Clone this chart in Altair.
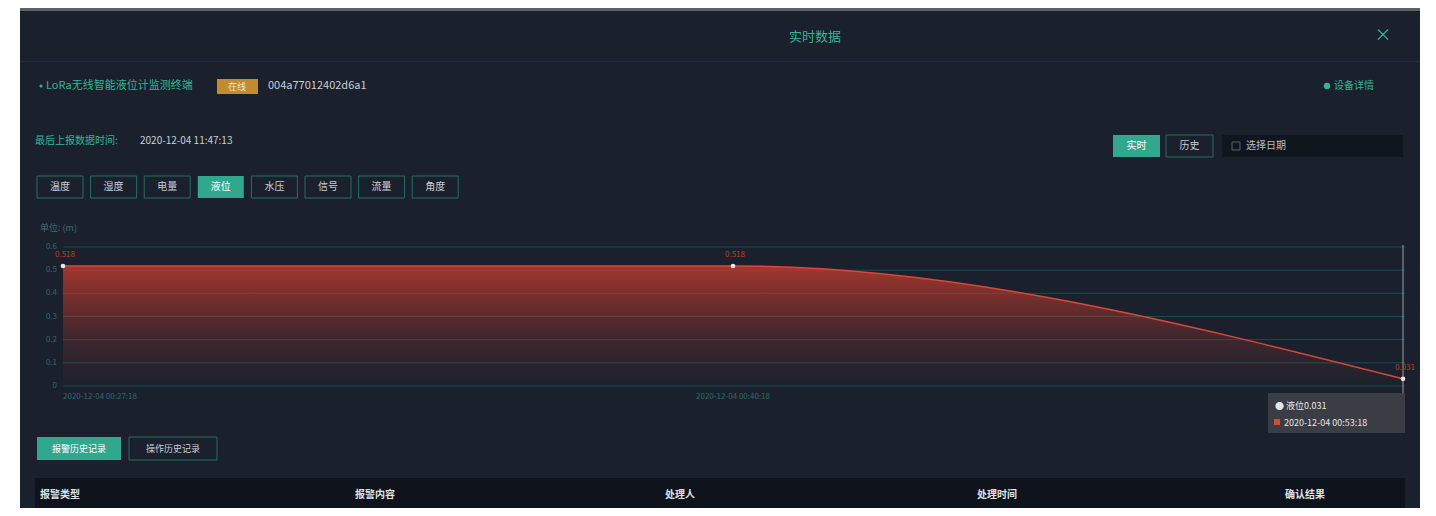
import altair as alt
import pandas as pd

# ---------------- data ----------------
times = ["2020-12-04 00:27:18", "2020-12-04 00:40:18", "2020-12-04 00:53:18"]
levels = [0.518, 0.518, 0.031]
y_ticks = [0, 0.1, 0.2, 0.3, 0.4, 0.5, 0.6]
tab_labels = ["温度", "湿度", "电量", "液位", "水压", "信号", "流量", "角度"]
selected_tab = 3
table_headers = ["报警类型", "报警内容", "处理人", "处理时间", "确认结果"]
dialog_title = "实时数据"
device_name = "LoRa无线智能液位计监测终端"
device_status = "在线"
device_id = "004a77012402d6a1"
last_report_label = "最后上报数据时间:"
last_report_time = "2020-12-04 11:47:13"
unit_label = "单位: (m)"

# ---------------- style ----------------
FONT = "Noto Sans CJK SC"
OFF = 8
BG = "#1a212d"
TEAL = "#33b596"
TEAL_DARK = "#21705f"
LIGHT = "#c9ced6"
RED = "#d9483a"
one = pd.DataFrame({"k": [0]})


def rect(x1, y1, x2, y2, fill, stroke=None, sw=1, opacity=1.0):
    kw = dict(fill=fill, opacity=opacity)
    if stroke:
        kw.update(stroke=stroke, strokeWidth=sw)
    return alt.Chart(one).mark_rect(**kw).encode(
        x=alt.value(x1 - OFF), x2=alt.value(x2 - OFF),
        y=alt.value(y1 - OFF), y2=alt.value(y2 - OFF))


def text(x, y, s, color, size=11, align="left", weight="normal", font=FONT):
    return alt.Chart(one).mark_text(
        align=align, baseline="middle", fontSize=size, color=color,
        font=font, fontWeight=weight).encode(
        x=alt.value(x - OFF), y=alt.value(y - OFF), text=alt.value(s))


layers = []
# dialog
layers.append(rect(20, 9, 1420, 520, BG))
layers.append(rect(20, 8, 1420, 11, "#5d6168"))
layers.append(rect(20, 61, 1420, 62, "#232c39"))
layers.append(text(815, 37, dialog_title, TEAL, 13, "center"))
layers.append(text(1383, 36, "×", TEAL, 17, "center"))

# device row
layers.append(alt.Chart(one).mark_circle(color=TEAL, size=10, opacity=1).encode(
    x=alt.value(41 - OFF), y=alt.value(86 - OFF)))
layers.append(text(46, 86, device_name, TEAL, 11))
layers.append(rect(217, 79, 258, 94, "#c48a2e"))
layers.append(text(237, 86.5, device_status, "#f3e2c4", 9, "center"))
layers.append(text(268, 86, device_id, LIGHT, 11))
layers.append(alt.Chart(one).mark_circle(color=TEAL, size=40, opacity=1).encode(
    x=alt.value(1327 - OFF), y=alt.value(86 - OFF)))
layers.append(text(1334, 86, "设备详情", TEAL, 10))

# last report row
layers.append(text(35, 141, last_report_label, TEAL, 10))
layers.append(text(140, 141, last_report_time, LIGHT, 10))

# realtime / history / date picker
layers.append(rect(1113, 135, 1160, 157, "#2fa88e"))
layers.append(text(1136.5, 146, "实时", "#ffffff", 10, "center"))
layers.append(rect(1166, 135, 1213, 157, "transparent", TEAL_DARK))
layers.append(text(1189.5, 146, "历史", LIGHT, 10, "center"))
layers.append(rect(1222, 135, 1403, 157, "#10161e"))
layers.append(rect(1232, 142, 1240, 150, "transparent", "#59606a"))
layers.append(text(1246, 146, "选择日期", "#b9bec6", 10))

# tabs
for i, lab in enumerate(tab_labels):
    x0 = 37 + i * 53.6
    if i == selected_tab:
        layers.append(rect(x0, 176, x0 + 46, 198, "#2fa88e"))
        layers.append(text(x0 + 23, 187, lab, "#ffffff", 10, "center"))
    else:
        layers.append(rect(x0, 176, x0 + 46, 198, "transparent", TEAL_DARK))
        layers.append(text(x0 + 23, 187, lab, LIGHT, 10, "center"))

# chart
layers.append(text(40, 228, unit_label, "#3e6d70", 9))

df = pd.DataFrame({"time": times, "level": levels})
tick_df = pd.DataFrame({"tick": y_ticks,
                        "label": ["0" if t == 0 else f"{t:.1f}" for t in y_ticks]})

xscale = alt.Scale(type="point", domain=times, range=[63 - OFF, 1403 - OFF], padding=0)
yscale = alt.Scale(domain=[0, 0.6], range=[386 - OFF, 247 - OFF], nice=False, zero=True)
xs = alt.X("time:N", sort=None, scale=xscale, axis=None)
ys = alt.Y("level:Q", scale=yscale, axis=None)

grid = alt.Chart(tick_df).mark_rule(color="#1d4a50", strokeWidth=1).encode(
    y=alt.Y("tick:Q", scale=yscale, axis=None),
    x=alt.value(63 - OFF), x2=alt.value(1405 - OFF))
ylabels = alt.Chart(tick_df).mark_text(
    align="right", baseline="middle", fontSize=8, color="#2f6a6c", font=FONT).encode(
    y=alt.Y("tick:Q", scale=yscale, axis=None),
    x=alt.value(57 - OFF), text="label:N")
layers += [grid, ylabels]

area = alt.Chart(df).mark_area(
    interpolate="monotone",
    color=alt.Gradient(
        gradient="linear",
        stops=[alt.GradientStop(color="rgba(196,58,44,0.8)", offset=0),
               alt.GradientStop(color="rgba(196,58,44,0.25)", offset=0.55),
               alt.GradientStop(color="rgba(196,58,44,0.0)", offset=1)],
        x1=1, x2=1, y1=0, y2=1)).encode(x=xs, y=ys)
line = alt.Chart(df).mark_line(interpolate="monotone", color=RED, strokeWidth=1.5).encode(x=xs, y=ys)

pointer = alt.Chart(df).transform_filter(alt.datum.time == times[-1]).mark_rule(
    color="#9aa0a8", strokeWidth=1).encode(
    x=xs, y=alt.value(245 - OFF), y2=alt.value(395 - OFF))

pts = alt.Chart(df).mark_circle(color="#eee6e2", size=22, opacity=1).encode(x=xs, y=ys)
lbls = alt.Chart(df).mark_text(dy=-11, dx=2, fontSize=8, color="#c0392b", font=FONT).encode(
    x=xs, y=ys, text=alt.Text("level:Q", format=".3f"))

xl_first = alt.Chart(df).transform_filter(alt.datum.time == times[0]).mark_text(
    align="left", baseline="middle", fontSize=8, color="#2f6a6c", font=FONT).encode(
    x=xs, y=alt.value(397 - OFF), text="time:N")
xl_mid = alt.Chart(df).transform_filter(alt.datum.time == times[1]).mark_text(
    align="center", baseline="middle", fontSize=8, color="#2f6a6c", font=FONT).encode(
    x=xs, y=alt.value(397 - OFF), text="time:N")
layers += [area, line, pointer, pts, lbls, xl_first, xl_mid]

# tooltip
layers.append(rect(1268, 393, 1405, 433, "#3c3f45", opacity=0.95))
layers.append(text(1275, 406, f"● {tab_labels[selected_tab]}{levels[-1]:.3f}", "#e6e6e6", 9))
layers.append(rect(1274, 419, 1280, 425, RED))
layers.append(text(1284, 422.5, times[-1], "#e6e6e6", 9))

# bottom buttons
layers.append(rect(37, 437, 121, 460, "#2fa88e"))
layers.append(text(79, 448.5, "报警历史记录", "#ffffff", 9, "center"))
layers.append(rect(129, 437, 217, 460, "transparent", TEAL_DARK))
layers.append(text(173, 448.5, "操作历史记录", LIGHT, 9, "center"))

# table header
layers.append(rect(35, 478, 1405, 520, "#0f141c"))
hx = [40, 355, 665, 977, 1285]
for x, h in zip(hx, table_headers):
    layers.append(text(x, 495, h, "#dfe3e8", 10, "left", "bold"))

chart = alt.layer(*layers).properties(
    width=1420, height=500, padding=0, autosize="none", background="white"
).configure_view(strokeWidth=0)

chart.save("out.html", embed_options={"renderer": "svg", "actions": False})
